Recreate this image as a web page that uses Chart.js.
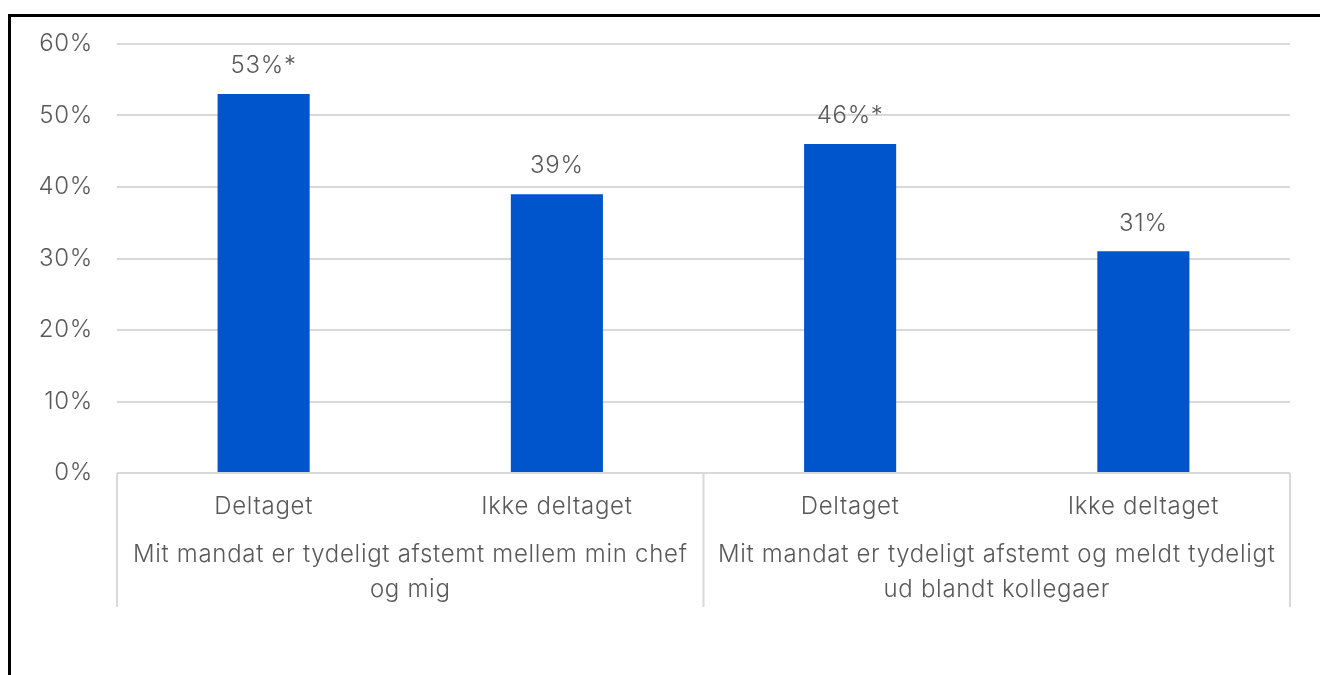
<!DOCTYPE html>
<html>
<head>
<meta charset="utf-8">
<script src="https://cdn.jsdelivr.net/npm/chart.js@4/dist/chart.umd.min.js"></script>
<style>
  html, body { margin: 0; padding: 0; background: #fff; overflow: hidden; }
  #wrap { position: absolute; left: 0; top: 0; width: 1320px; height: 675px; }
  #frame { position: absolute; left: 8px; top: 14px; width: 1400px; height: 800px;
           border-left: 3px solid #000; border-top: 3px solid #000; pointer-events: none; }
</style>
</head>
<body>
<div id="wrap"><canvas id="chart" width="1320" height="675"></canvas></div>
<div id="frame"></div>
<script>
const categories = ['Deltaget', 'Ikke deltaget', 'Deltaget', 'Ikke deltaget'];
const values = [53, 39, 46, 31];
const notes = ['*', '', '*', ''];
const groups = [
    ['Mit mandat er tydeligt afstemt mellem min chef', 'og mig'],
    ['Mit mandat er tydeligt afstemt og meldt tydeligt', 'ud blandt kollegaer']
];
const groupSize = 2;
const yTicks = [0, 10, 20, 30, 40, 50, 60];

const FONT = 'Inter, "Noto Sans", sans-serif';
const WEIGHT = 300;
const SIZE = 24;
const TEXT = '#595959';
const GRID = '#d9d9d9';

// slightly wider tracking for all chart text (the context is reset on resize)
const tracking = {
    id: 'tracking',
    beforeLayout(chart) { chart.ctx.letterSpacing = '0.7px'; },
    beforeDraw(chart) { chart.ctx.letterSpacing = '0.7px'; }
};

// value labels above bars, group captions and separators under the axis
const extras = {
    id: 'extras',
    afterDatasetsDraw(chart) {
        const ctx = chart.ctx;
        const x = chart.scales.x;
        const y = chart.scales.y;
        ctx.save();
        ctx.fillStyle = TEXT;
        ctx.font = WEIGHT + ' ' + SIZE + 'px ' + FONT;
        ctx.textAlign = 'center';
        ctx.textBaseline = 'middle';
        values.forEach(function(v, i) {
            ctx.fillText(v + '%' + notes[i], x.getPixelForValue(i), y.getPixelForValue(v) - 28);
        });

        const bottom = chart.chartArea.bottom;
        const step = x.getPixelForValue(1) - x.getPixelForValue(0);
        ctx.strokeStyle = GRID;
        ctx.lineWidth = 2;
        for (let g = 0; g <= groups.length; g++) {
            const px = x.getPixelForValue(g * groupSize) - step / 2;
            ctx.beginPath();
            ctx.moveTo(px, bottom);
            ctx.lineTo(px, bottom + 134);
            ctx.stroke();
        }
        groups.forEach(function(lines, g) {
            const cx = (x.getPixelForValue(g * groupSize) + x.getPixelForValue(g * groupSize + groupSize - 1)) / 2;
            lines.forEach(function(line, k) {
                ctx.fillText(line, cx, bottom + 82 + k * 35);
            });
        });
        ctx.restore();
    }
};

const ctx = document.getElementById('chart').getContext('2d');
new Chart(ctx, {
    type: 'bar',
    data: {
        labels: categories,
        datasets: [{
            data: values,
            backgroundColor: '#0055cc',
            categoryPercentage: 1,
            barPercentage: 0.314
        }]
    },
    options: {
        responsive: false,
        animation: false,
        layout: { padding: { top: 44, right: 30, left: 0, bottom: 0 } },
        plugins: { legend: { display: false }, tooltip: { enabled: false } },
        scales: {
            x: {
                grid: { display: false, drawTicks: false },
                border: { display: false },
                ticks: { color: TEXT, font: { family: FONT, size: SIZE, weight: WEIGHT }, padding: 19, maxRotation: 0 },
                afterFit: function(scale) { scale.height = 202; }
            },
            y: {
                min: 0,
                max: 60,
                afterBuildTicks: function(scale) { scale.ticks = yTicks.map(function(v) { return { value: v }; }); },
                grid: { color: GRID, lineWidth: 2, drawTicks: false },
                border: { display: false },
                ticks: {
                    color: TEXT,
                    font: { family: FONT, size: SIZE, weight: WEIGHT },
                    padding: 24,
                    callback: function(v) { return v + '%'; }
                },
                afterFit: function(scale) { scale.width = 117; }
            }
        }
    },
    plugins: [tracking, extras]
});
</script>
</body>
</html>
